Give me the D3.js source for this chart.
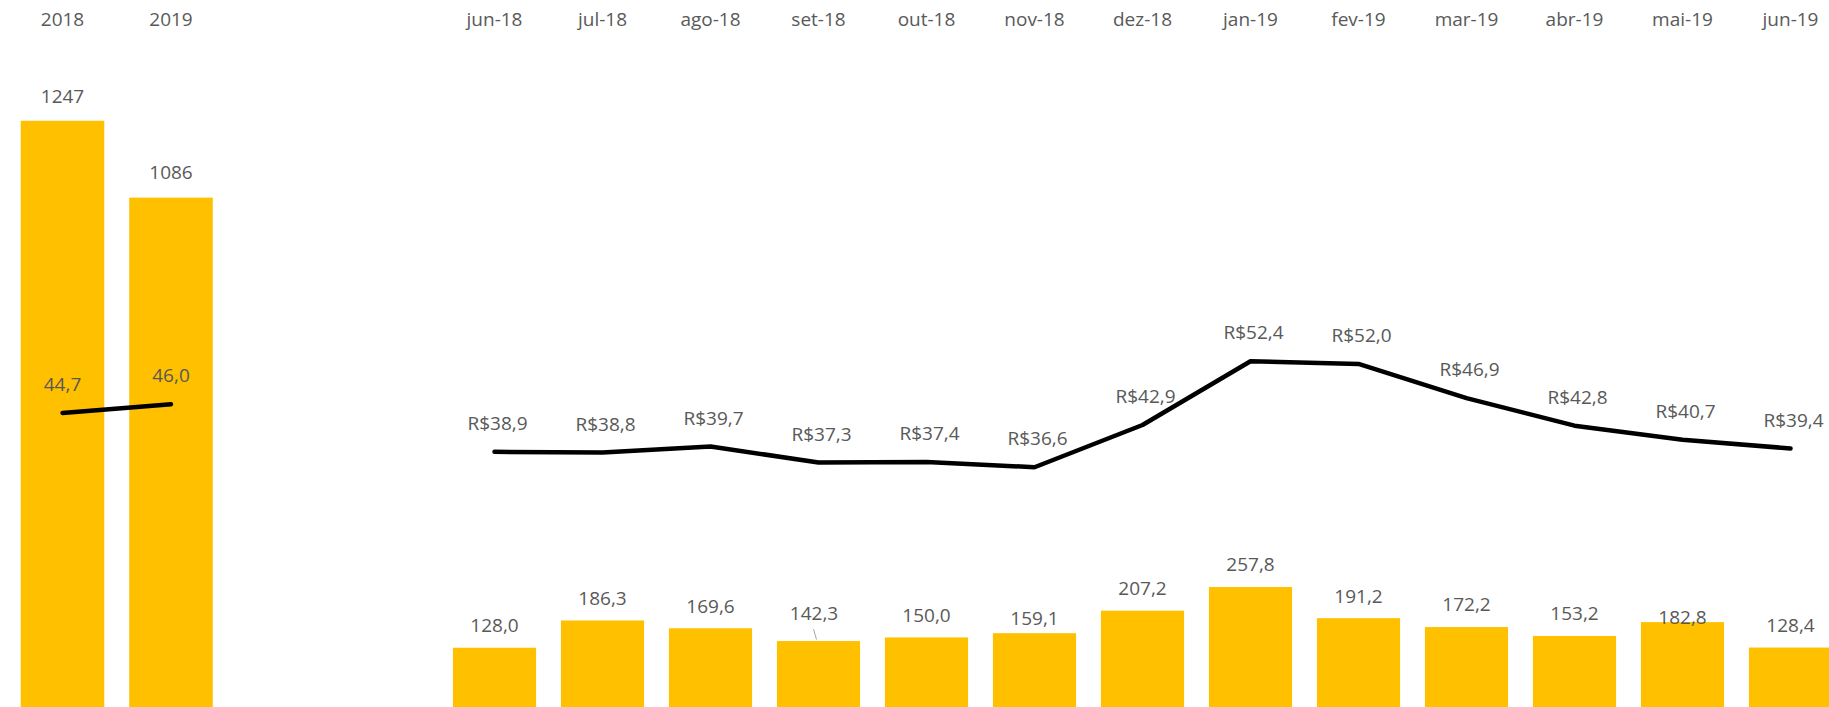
<!DOCTYPE html>
<html>
<head>
<meta charset="utf-8">
<script src="https://cdn.jsdelivr.net/npm/d3@7"></script>
<style>
  body { margin: 0; background: #fff; }
  svg { display: block; font-family: 'Open Sans', sans-serif; }
</style>
</head>
<body>
<svg id="chart"></svg>
<script>
/* global d3 */
const years = ['2018', '2019']
const yearVolume = [1247, 1086]
const yearPrice = [44.7, 46.0]

const months = ['jun-18', 'jul-18', 'ago-18', 'set-18', 'out-18', 'nov-18', 'dez-18',
  'jan-19', 'fev-19', 'mar-19', 'abr-19', 'mai-19', 'jun-19']
const monthVolume = [128.0, 186.3, 169.6, 142.3, 150.0, 159.1, 207.2, 257.8, 191.2, 172.2, 153.2, 182.8, 128.4]
const monthPrice = [38.9, 38.8, 39.7, 37.3, 37.4, 36.6, 42.9, 52.4, 52.0, 46.9, 42.8, 40.7, 39.4]

const width = 1829
const height = 707
const gold = '#FFC000'
const textColor = '#595959'
const fontSize = 19

const br = d3.formatLocale({ decimal: ',', thousands: '.', grouping: [3], currency: ['R$', ''] })

const svg = d3.select('#chart')
  .attr('width', width)
  .attr('height', height)

// preço médio: mesma escala nos dois painéis
const priceScale = d3.scaleLinear().domain([0, 106.2]).range([713, 0])

// rótulos que foram arrastados à mão no original
const monthNudge = {
  'set-18': { dx: -4.5, dy: -5.5, leader: true },
  'nov-18': { dx: 0, dy: 7.5 },
  'mai-19': { dx: 0, dy: 17.8 }
}

function drawPanel ({ cats, volume, price, x, yBar, barFmt, priceFmt, barGap, priceDx, nudge }) {
  const g = svg.append('g')
  const data = cats.map((c, i) => ({ c, v: volume[i], p: price[i] }))
  const cx = d => x(d.c) + x.bandwidth() / 2

  g.selectAll('rect')
    .data(data)
    .enter()
    .append('rect')
    .attr('x', d => x(d.c))
    .attr('width', x.bandwidth())
    .attr('y', d => yBar(d.v))
    .attr('height', d => yBar(0) - yBar(d.v))
    .attr('fill', gold)

  const line = d3.line()
    .x(cx)
    .y(d => priceScale(d.p))

  g.append('path')
    .attr('d', line(data))
    .attr('fill', 'none')
    .attr('stroke', '#000')
    .attr('stroke-width', 4.5)
    .attr('stroke-linecap', 'round')
    .attr('stroke-linejoin', 'round')

  const off = d => nudge[d.c] || { dx: 0, dy: 0 }

  g.selectAll('line.leader')
    .data(data.filter(d => off(d).leader))
    .enter()
    .append('line')
    .attr('class', 'leader')
    .attr('x1', d => cx(d) + off(d).dx - 0.5)
    .attr('y1', d => yBar(d.v) - barGap + off(d).dy + 16)
    .attr('x2', d => cx(d) - 2)
    .attr('y2', d => yBar(d.v) - 1.5)
    .attr('stroke', '#A6A6A6')
    .attr('stroke-width', 1)

  g.selectAll('text.vol')
    .data(data)
    .enter()
    .append('text')
    .attr('class', 'vol')
    .attr('x', d => cx(d) + off(d).dx)
    .attr('y', d => yBar(d.v) - barGap + off(d).dy)
    .attr('dy', '0.36em')
    .attr('text-anchor', 'middle')
    .attr('font-size', fontSize)
    .attr('fill', textColor)
    .text(d => barFmt(d.v))

  g.selectAll('text.price')
    .data(data)
    .enter()
    .append('text')
    .attr('class', 'price')
    .attr('x', d => cx(d) + priceDx)
    .attr('y', d => priceScale(d.p) - 28.7)
    .attr('dy', '0.36em')
    .attr('text-anchor', 'middle')
    .attr('font-size', fontSize)
    .attr('fill', textColor)
    .text(d => priceFmt(d.p))

  const axis = d3.axisTop(x).tickSize(0).tickPadding(0)
  const ax = g.append('g')
    .attr('transform', 'translate(0, 25.5)')
    .call(axis)
  ax.select('.domain').remove()
  ax.selectAll('text')
    .attr('font-size', fontSize)
    .attr('font-family', "'Open Sans', sans-serif")
    .attr('fill', textColor)
}

// painel anual
const xYear = d3.scaleBand()
  .domain(years)
  .range([8.25, 225.25])
  .paddingInner(0.23)
  .paddingOuter(0.115)

drawPanel({
  cats: years,
  volume: yearVolume,
  price: yearPrice,
  x: xYear,
  yBar: d3.scaleLinear().domain([0, 1500]).range([716, 0]),
  barFmt: br.format('d'),
  priceFmt: br.format('.1f'),
  barGap: 25,
  priceDx: 0,
  nudge: {}
})

// painel mensal
const xMonth = d3.scaleBand()
  .domain(months)
  .range([440.5, 1844.5])
  .paddingInner(0.23)
  .paddingOuter(0.115)

drawPanel({
  cats: months,
  volume: monthVolume,
  price: monthPrice,
  x: xMonth,
  yBar: d3.scaleLinear().domain([0, 1513]).range([707.6, 0]),
  barFmt: br.format('.1f'),
  priceFmt: br.format('$.1f'),
  barGap: 22.5,
  priceDx: 3,
  nudge: monthNudge
})
</script>
</body>
</html>
